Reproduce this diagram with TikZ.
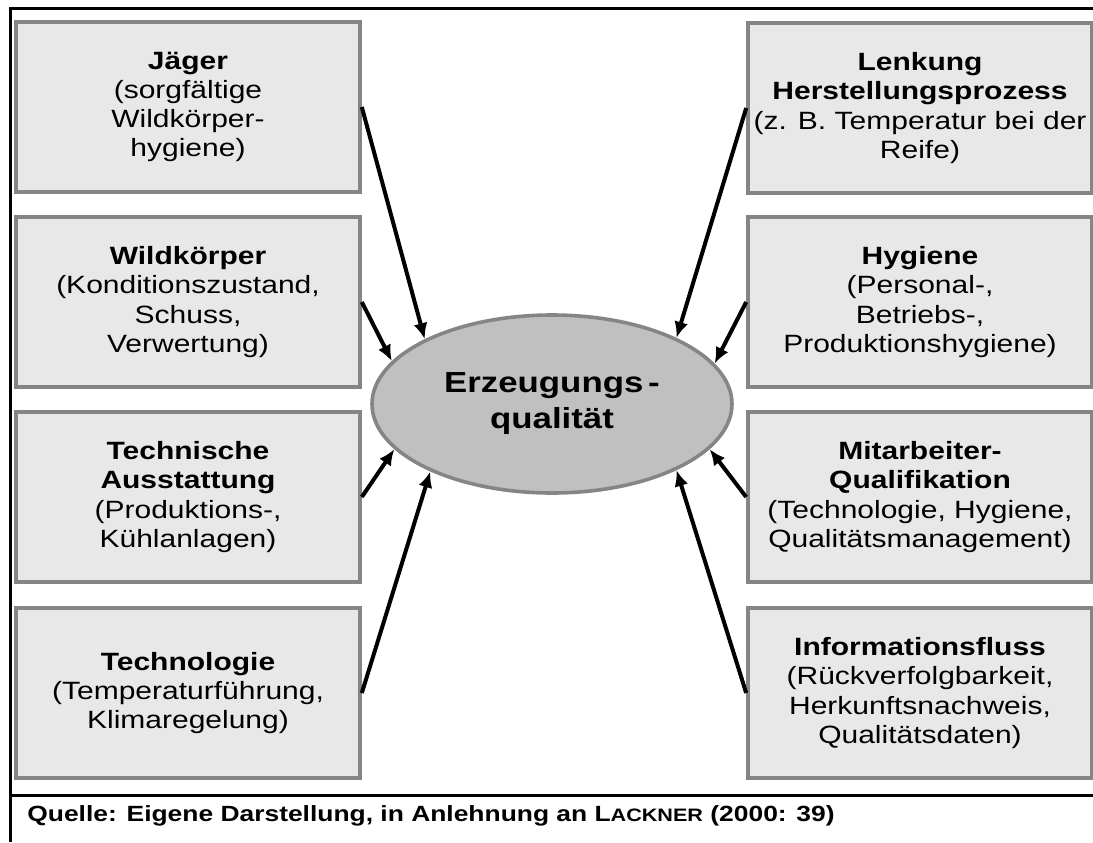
\documentclass[tikz,border=0pt]{standalone}
\usepackage{fontspec}
\setmainfont{Liberation Sans}[FakeStretch=1.2]
\usetikzlibrary{shapes.geometric,arrows.meta}
\definecolor{boxfill}{HTML}{E8E8E8}
\definecolor{boxline}{HTML}{858585}
\definecolor{ovalfill}{HTML}{C0C0C0}

\begin{document}
\begin{tikzpicture}[x=0.5pt,y=-0.5pt,
    factor/.style={draw=boxline, fill=boxfill, line width=1.8pt, minimum width=172pt, minimum height=85pt, inner sep=2pt, align=center, font=\fontsize{12.5}{14.6}\selectfont},
    core/.style={ellipse, draw=boxline, fill=ovalfill, line width=1.8pt, minimum width=180pt, minimum height=89pt, inner sep=0pt, align=center, font=\fontsize{14.5}{18}\selectfont\bfseries},
    influence/.style={-{Latex[length=8pt,width=7pt]}, line width=2pt},
    frame/.style={line width=1.5pt}]
    \useasboundingbox (0,0) rectangle (1093,842);

    % Frame
    \draw[frame] (1093,8) -- (10,8) -- (10,842);
    \draw[frame] (10,795) -- (1093,795);

    % Centre
    \node[core] (quality) at (552,404) {Erzeugungs\,-\\qualität};

    % Left column
    \node[factor] (hunter) at (188,107) {\textbf{Jäger}\\(sorgfältige\\Wildkörper-\\hygiene)};
    \node[factor] (carcass) at (188,302) {\textbf{Wildkörper}\\(Konditionszustand,\\Schuss,\\Verwertung)};
    \node[factor] (equipment) at (188,497) {\textbf{Technische}\\\textbf{Ausstattung}\\(Produktions-,\\Kühlanlagen)};
    \node[factor] (technology) at (188,693) {\textbf{Technologie}\\(Temperaturführung,\\Klimaregelung)};

    % Right column
    \node[factor] (process) at (920,108) {\textbf{Lenkung}\\\textbf{Herstellungsprozess}\\(z. B. Temperatur bei der\\Reife)};
    \node[factor] (hygiene) at (920,302) {\textbf{Hygiene}\\(Personal-,\\Betriebs-,\\Produktionshygiene)};
    \node[factor] (staff) at (920,497) {\textbf{Mitarbeiter-}\\\textbf{Qualifikation}\\(Technologie, Hygiene,\\Qualitätsmanagement)};
    \node[factor] (information) at (920,693) {\textbf{Informationsfluss}\\(Rückverfolgbarkeit,\\Herkunftsnachweis,\\Qualitätsdaten)};

    % Arrows
    \draw[influence] (hunter.east) -- (quality.153);
    \draw[influence] (carcass.east) -- (quality.165);
    \draw[influence] (equipment.east) -- (quality.196);
    \draw[influence] (technology.east) -- (quality.209);
    \draw[influence] (process.west) -- (quality.28);
    \draw[influence] (hygiene.west) -- (quality.14);
    \draw[influence] (staff.west) -- (quality.344);
    \draw[influence] (information.west) -- (quality.332);

    % Source
    \node[anchor=base west, inner sep=0pt, font=\fontsize{11}{13}\selectfont\bfseries] (source) at (27,821) {Quelle: Eigene Darstellung, in Anlehnung an L{\fontsize{9}{10}\selectfont ACKNER} (2000: 39)};
\end{tikzpicture}
\end{document}
